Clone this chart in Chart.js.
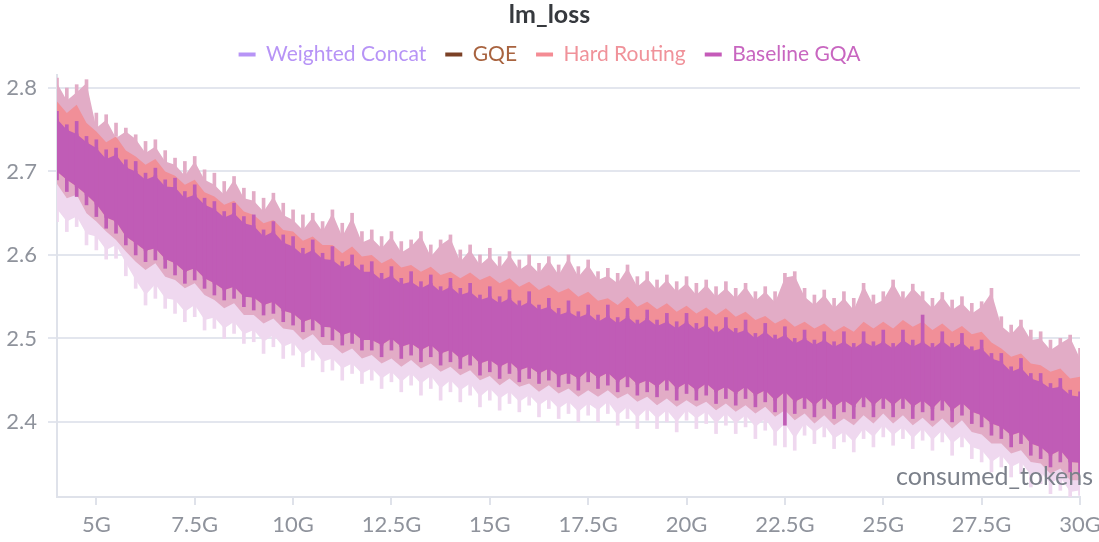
<!DOCTYPE html>
<html>
<head>
<meta charset="utf-8">
<script src="https://cdn.jsdelivr.net/npm/chart.js@4.4.1/dist/chart.umd.min.js"></script>
<style>
  html, body { margin: 0; padding: 0; background: #fff; }
  #wrap { width: 1099px; height: 542px; }
</style>
</head>
<body>
<div id="wrap"><canvas id="lossChart"></canvas></div>
<script>
// consumed tokens (G), sampled every 0.25G
const tokens = [
  4, 4.25, 4.5, 4.75, 5, 5.25, 5.5, 5.75, 6, 6.25, 6.5, 6.75, 7, 7.25, 7.5, 7.75,
  8, 8.25, 8.5, 8.75, 9, 9.25, 9.5, 9.75, 10, 10.25, 10.5, 10.75, 11, 11.25, 11.5, 11.75,
  12, 12.25, 12.5, 12.75, 13, 13.25, 13.5, 13.75, 14, 14.25, 14.5, 14.75, 15, 15.25, 15.5, 15.75,
  16, 16.25, 16.5, 16.75, 17, 17.25, 17.5, 17.75, 18, 18.25, 18.5, 18.75, 19, 19.25, 19.5, 19.75,
  20, 20.25, 20.5, 20.75, 21, 21.25, 21.5, 21.75, 22, 22.25, 22.5, 22.75, 23, 23.25, 23.5, 23.75,
  24, 24.25, 24.5, 24.75, 25, 25.25, 25.5, 25.75, 26, 26.25, 26.5, 26.75, 27, 27.25, 27.5, 27.75,
  28, 28.25, 28.5, 28.75, 29, 29.25, 29.5, 29.75, 30
];

// Hard Routing: spike tops, max of the raw band, top of the line
const hardRoutingSpike = [
  2.812, 2.800, 2.804, 2.810, 2.770, 2.768, 2.758, 2.752, 2.744, 2.736, 2.738, 2.725, 2.716, 2.712, 2.718, 2.702,
  2.698, 2.688, 2.694, 2.680, 2.676, 2.668, 2.674, 2.662, 2.654, 2.648, 2.650, 2.640, 2.654, 2.638, 2.650, 2.628,
  2.630, 2.622, 2.628, 2.616, 2.618, 2.628, 2.612, 2.618, 2.624, 2.606, 2.612, 2.600, 2.608, 2.598, 2.604, 2.594,
  2.600, 2.590, 2.598, 2.588, 2.600, 2.586, 2.594, 2.580, 2.584, 2.578, 2.588, 2.574, 2.580, 2.570, 2.576, 2.568,
  2.574, 2.566, 2.570, 2.562, 2.568, 2.560, 2.566, 2.556, 2.562, 2.556, 2.578, 2.580, 2.560, 2.552, 2.558, 2.548,
  2.556, 2.548, 2.566, 2.552, 2.556, 2.570, 2.556, 2.565, 2.556, 2.548, 2.555, 2.546, 2.550, 2.542, 2.544, 2.560,
  2.526, 2.516, 2.522, 2.510, 2.508, 2.498, 2.500, 2.504, 2.488
];
const hardRoutingMax = [
  2.806, 2.785, 2.795, 2.806, 2.752, 2.762, 2.740, 2.748, 2.739, 2.722, 2.730, 2.712, 2.708, 2.695, 2.712, 2.690,
  2.684, 2.672, 2.690, 2.668, 2.665, 2.652, 2.670, 2.648, 2.642, 2.630, 2.645, 2.628, 2.650, 2.622, 2.645, 2.615,
  2.620, 2.608, 2.622, 2.603, 2.610, 2.623, 2.598, 2.612, 2.620, 2.592, 2.606, 2.588, 2.598, 2.584, 2.600, 2.582,
  2.590, 2.578, 2.594, 2.576, 2.596, 2.574, 2.588, 2.570, 2.575, 2.566, 2.584, 2.562, 2.572, 2.558, 2.570, 2.556,
  2.566, 2.552, 2.564, 2.550, 2.560, 2.548, 2.562, 2.545, 2.556, 2.543, 2.573, 2.575, 2.550, 2.540, 2.552, 2.536,
  2.548, 2.534, 2.563, 2.540, 2.546, 2.566, 2.545, 2.560, 2.548, 2.536, 2.550, 2.534, 2.542, 2.530, 2.538, 2.555,
  2.515, 2.505, 2.518, 2.498, 2.500, 2.486, 2.494, 2.501, 2.476
];
const hardRoutingTop = [
  2.784, 2.770, 2.780, 2.758, 2.748, 2.735, 2.742, 2.725, 2.718, 2.708, 2.715, 2.700, 2.695, 2.684, 2.690, 2.675,
  2.670, 2.660, 2.665, 2.652, 2.648, 2.638, 2.642, 2.630, 2.628, 2.617, 2.622, 2.612, 2.612, 2.602, 2.610, 2.598,
  2.600, 2.590, 2.596, 2.585, 2.588, 2.580, 2.586, 2.576, 2.580, 2.572, 2.579, 2.570, 2.575, 2.566, 2.572, 2.562,
  2.568, 2.558, 2.564, 2.555, 2.560, 2.550, 2.556, 2.545, 2.548, 2.540, 2.550, 2.538, 2.544, 2.535, 2.542, 2.532,
  2.539, 2.530, 2.537, 2.528, 2.536, 2.526, 2.532, 2.522, 2.527, 2.518, 2.524, 2.514, 2.520, 2.512, 2.518, 2.508,
  2.515, 2.508, 2.520, 2.512, 2.520, 2.512, 2.522, 2.514, 2.520, 2.510, 2.518, 2.508, 2.515, 2.505, 2.508, 2.495,
  2.488, 2.478, 2.482, 2.470, 2.468, 2.460, 2.464, 2.452, 2.454
];

// Baseline GQA: spike tips, top and bottom of the line, dips, bottom of the raw band
const baselineSpike = [
  2.772, 2.756, 2.760, 2.742, 2.738, 2.726, 2.728, 2.714, 2.712, 2.698, 2.704, 2.690, 2.692, 2.676, 2.684, 2.668,
  2.664, 2.652, 2.662, 2.646, 2.648, 2.630, 2.640, 2.624, 2.622, 2.608, 2.618, 2.602, 2.610, 2.592, 2.600, 2.588,
  2.592, 2.578, 2.586, 2.572, 2.580, 2.568, 2.576, 2.562, 2.572, 2.560, 2.566, 2.552, 2.562, 2.550, 2.558, 2.545,
  2.556, 2.540, 2.548, 2.536, 2.545, 2.532, 2.540, 2.528, 2.540, 2.525, 2.536, 2.522, 2.534, 2.522, 2.530, 2.520,
  2.530, 2.518, 2.526, 2.514, 2.525, 2.512, 2.522, 2.506, 2.518, 2.504, 2.514, 2.500, 2.510, 2.498, 2.508, 2.496,
  2.508, 2.494, 2.508, 2.496, 2.510, 2.494, 2.510, 2.498, 2.528, 2.494, 2.508, 2.494, 2.506, 2.490, 2.498, 2.482,
  2.482, 2.466, 2.476, 2.458, 2.458, 2.446, 2.452, 2.438, 2.436
];
const baselineTop = [
  2.763, 2.750, 2.745, 2.735, 2.728, 2.715, 2.720, 2.705, 2.700, 2.690, 2.695, 2.682, 2.681, 2.668, 2.672, 2.660,
  2.655, 2.645, 2.650, 2.638, 2.635, 2.622, 2.628, 2.615, 2.610, 2.600, 2.606, 2.595, 2.594, 2.585, 2.590, 2.580,
  2.580, 2.570, 2.575, 2.565, 2.568, 2.560, 2.566, 2.556, 2.562, 2.552, 2.556, 2.546, 2.550, 2.542, 2.548, 2.538,
  2.544, 2.534, 2.538, 2.528, 2.532, 2.525, 2.530, 2.520, 2.527, 2.518, 2.526, 2.516, 2.524, 2.515, 2.520, 2.512,
  2.520, 2.510, 2.516, 2.506, 2.515, 2.506, 2.510, 2.500, 2.508, 2.498, 2.504, 2.494, 2.500, 2.492, 2.498, 2.490,
  2.496, 2.488, 2.496, 2.490, 2.496, 2.488, 2.498, 2.490, 2.496, 2.488, 2.497, 2.488, 2.495, 2.485, 2.488, 2.476,
  2.472, 2.460, 2.465, 2.452, 2.448, 2.440, 2.442, 2.432, 2.430
];
const baselineBottom = [
  2.700, 2.690, 2.682, 2.672, 2.661, 2.645, 2.640, 2.622, 2.614, 2.605, 2.608, 2.595, 2.590, 2.580, 2.584, 2.572,
  2.566, 2.558, 2.562, 2.550, 2.549, 2.540, 2.544, 2.533, 2.530, 2.520, 2.524, 2.514, 2.513, 2.504, 2.508, 2.498,
  2.498, 2.492, 2.500, 2.490, 2.494, 2.486, 2.492, 2.482, 2.486, 2.476, 2.482, 2.470, 2.474, 2.466, 2.472, 2.462,
  2.466, 2.458, 2.464, 2.455, 2.459, 2.452, 2.462, 2.453, 2.459, 2.448, 2.456, 2.445, 2.450, 2.442, 2.452, 2.440,
  2.447, 2.438, 2.446, 2.436, 2.442, 2.434, 2.442, 2.432, 2.438, 2.426, 2.436, 2.424, 2.430, 2.420, 2.430, 2.418,
  2.426, 2.418, 2.432, 2.420, 2.430, 2.420, 2.430, 2.418, 2.426, 2.416, 2.428, 2.414, 2.423, 2.412, 2.408, 2.398,
  2.394, 2.384, 2.388, 2.374, 2.370, 2.360, 2.366, 2.352, 2.351
];
const baselineDip = [
  2.690, 2.676, 2.670, 2.660, 2.646, 2.632, 2.626, 2.612, 2.600, 2.592, 2.594, 2.584, 2.576, 2.566, 2.570, 2.560,
  2.552, 2.546, 2.548, 2.538, 2.534, 2.528, 2.530, 2.520, 2.516, 2.508, 2.510, 2.502, 2.498, 2.492, 2.494, 2.486,
  2.486, 2.478, 2.486, 2.476, 2.480, 2.472, 2.478, 2.468, 2.472, 2.464, 2.468, 2.456, 2.460, 2.452, 2.458, 2.448,
  2.452, 2.446, 2.450, 2.442, 2.446, 2.438, 2.448, 2.440, 2.444, 2.436, 2.442, 2.432, 2.436, 2.430, 2.438, 2.426,
  2.434, 2.426, 2.432, 2.422, 2.428, 2.420, 2.428, 2.418, 2.424, 2.412, 2.396, 2.410, 2.416, 2.406, 2.416, 2.404,
  2.412, 2.404, 2.418, 2.406, 2.416, 2.406, 2.416, 2.404, 2.412, 2.402, 2.414, 2.400, 2.408, 2.398, 2.394, 2.384,
  2.380, 2.370, 2.374, 2.360, 2.356, 2.346, 2.352, 2.340, 2.338
];
const baselineMin = [
  2.685, 2.668, 2.672, 2.650, 2.640, 2.628, 2.618, 2.604, 2.592, 2.582, 2.590, 2.574, 2.570, 2.560, 2.566, 2.552,
  2.546, 2.536, 2.542, 2.528, 2.528, 2.518, 2.524, 2.512, 2.510, 2.498, 2.505, 2.492, 2.492, 2.482, 2.488, 2.476,
  2.480, 2.470, 2.476, 2.466, 2.474, 2.464, 2.470, 2.460, 2.466, 2.456, 2.462, 2.450, 2.455, 2.444, 2.452, 2.442,
  2.446, 2.436, 2.444, 2.434, 2.440, 2.430, 2.438, 2.430, 2.438, 2.428, 2.434, 2.424, 2.430, 2.420, 2.428, 2.418,
  2.426, 2.418, 2.424, 2.414, 2.422, 2.412, 2.420, 2.410, 2.418, 2.406, 2.414, 2.402, 2.410, 2.398, 2.408, 2.396,
  2.404, 2.396, 2.408, 2.398, 2.410, 2.398, 2.408, 2.396, 2.405, 2.394, 2.404, 2.392, 2.402, 2.388, 2.385, 2.374,
  2.374, 2.362, 2.366, 2.352, 2.350, 2.338, 2.344, 2.330, 2.330
];

// Weighted Concat: min of the raw band and the lowest spikes
const weightedConcatMin = [
  2.655, 2.640, 2.646, 2.625, 2.622, 2.606, 2.612, 2.590, 2.570, 2.552, 2.565, 2.548, 2.546, 2.532, 2.540, 2.522,
  2.525, 2.512, 2.520, 2.505, 2.510, 2.496, 2.504, 2.490, 2.495, 2.480, 2.488, 2.472, 2.476, 2.464, 2.470, 2.458,
  2.464, 2.452, 2.460, 2.448, 2.458, 2.446, 2.455, 2.440, 2.450, 2.438, 2.446, 2.430, 2.440, 2.428, 2.436, 2.424,
  2.432, 2.420, 2.428, 2.416, 2.424, 2.412, 2.422, 2.414, 2.424, 2.408, 2.418, 2.405, 2.416, 2.404, 2.414, 2.400,
  2.414, 2.404, 2.412, 2.398, 2.410, 2.398, 2.408, 2.394, 2.404, 2.386, 2.398, 2.380, 2.398, 2.388, 2.396, 2.380,
  2.388, 2.376, 2.392, 2.382, 2.396, 2.384, 2.394, 2.380, 2.392, 2.378, 2.390, 2.374, 2.384, 2.370, 2.366, 2.352,
  2.360, 2.346, 2.352, 2.336, 2.340, 2.326, 2.334, 2.316, 2.318
];
const weightedConcatSpike = [
  2.640, 2.628, 2.634, 2.612, 2.606, 2.595, 2.596, 2.575, 2.560, 2.540, 2.548, 2.536, 2.530, 2.520, 2.526, 2.510,
  2.512, 2.500, 2.506, 2.494, 2.496, 2.482, 2.490, 2.476, 2.480, 2.466, 2.474, 2.460, 2.462, 2.450, 2.458, 2.446,
  2.450, 2.440, 2.448, 2.436, 2.444, 2.432, 2.440, 2.426, 2.436, 2.424, 2.432, 2.418, 2.426, 2.414, 2.422, 2.412,
  2.420, 2.406, 2.416, 2.404, 2.410, 2.400, 2.408, 2.400, 2.410, 2.396, 2.404, 2.392, 2.402, 2.392, 2.400, 2.388,
  2.402, 2.392, 2.398, 2.386, 2.396, 2.386, 2.394, 2.380, 2.390, 2.372, 2.370, 2.366, 2.384, 2.374, 2.382, 2.368,
  2.376, 2.364, 2.380, 2.370, 2.382, 2.372, 2.380, 2.368, 2.378, 2.366, 2.376, 2.360, 2.370, 2.356, 2.352, 2.340,
  2.346, 2.334, 2.338, 2.322, 2.326, 2.314, 2.318, 2.310, 2.312
];

// GQE, every 1G (mostly hidden under the other runs)
const gqeTokens = [4, 5, 6, 7, 8, 9, 10, 11, 12, 13, 14, 15, 16, 17, 18, 19, 20, 21, 22, 23, 24, 25, 26, 27, 28, 29, 30];
const gqeLoss = [
  2.730, 2.690, 2.660, 2.635, 2.610, 2.590, 2.570, 2.553, 2.540, 2.530, 2.523, 2.512, 2.504, 2.495,
  2.490, 2.486, 2.482, 2.477, 2.470, 2.464, 2.460, 2.462, 2.460, 2.458, 2.432, 2.408, 2.390
];

const xTicks = [5, 7.5, 10, 12.5, 15, 17.5, 20, 22.5, 25, 27.5, 30];
const yTicks = [2.4, 2.5, 2.6, 2.7, 2.8];

const seriesNames = ['Weighted Concat', 'GQE', 'Hard Routing', 'Baseline GQA'];
const seriesColors = ['#b794f6', '#7b4126', '#f48c94', '#c55bb9'];
const seriesTextColors = ['#b794f6', '#a8633f', '#f0929a', '#c866c0'];

function pts(xs, ys) {
    return xs.map((x, i) => ({ x: x, y: ys[i] }));
}

function bars(xs, lo, hi) {
    return xs.map((x, i) => ({ x: x, y: [lo[i], hi[i]] }));
}

function band(data, target, color, order) {
    return {
        data: data,
        fill: { target: target },
        backgroundColor: color,
        borderWidth: 0,
        pointRadius: 0,
        tension: 0,
        order: order
    };
}

function edge(data) {
    return { data: data, fill: false, borderWidth: 0, pointRadius: 0, tension: 0, order: 20 };
}

function spikes(data, color, order) {
    return {
        type: 'bar',
        data: data,
        backgroundColor: color,
        barThickness: 3,
        grouped: false,
        order: order
    };
}

const FONT = 'Lato, "Noto Sans", sans-serif';

// title and axis name are drawn by hand
const textPlugin = {
    id: 'texts',
    afterDraw(chart) {
        const { ctx, chartArea } = chart;
        ctx.save();
        ctx.textBaseline = 'middle';
        ctx.textAlign = 'center';
        ctx.font = 'bold 25px ' + FONT;
        ctx.fillStyle = '#36393e';
        ctx.fillText('lm_loss', chart.width / 2, 15);
        ctx.font = '25px ' + FONT;
        ctx.fillStyle = '#7b808a';
        ctx.textAlign = 'right';
        ctx.fillText('consumed_tokens', chartArea.right + 13, chartArea.bottom - 20);
        ctx.restore();
    }
};

function createLossChart() {
    const ctx = document.getElementById('lossChart').getContext('2d');
    new Chart(ctx, {
        type: 'line',
        data: {
            datasets: [
                band(pts(tokens, weightedConcatMin), 1, '#efd8ef', 10),   // 0
                edge(pts(tokens, baselineTop)),                          // 1
                band(pts(tokens, hardRoutingMax), 3, '#e2acc6', 9),       // 2
                edge(pts(tokens, baselineMin)),                          // 3
                band(pts(tokens, hardRoutingTop), 5, '#f18f98', 8),       // 4
                edge(pts(tokens, baselineBottom)),                       // 5
                {
                    data: pts(gqeTokens, gqeLoss),
                    borderColor: seriesColors[1],
                    borderWidth: 1.5,
                    pointRadius: 0,
                    fill: false,
                    order: 7
                },                                                       // 6
                band(pts(tokens, baselineTop), 5, '#c05cb6', 6),          // 7
                spikes(bars(tokens, hardRoutingTop, hardRoutingSpike), '#e2acc6', 11),
                spikes(bars(tokens, baselineMin, weightedConcatSpike), '#efd8ef', 11),
                spikes(bars(tokens, baselineBottom, baselineSpike), '#c05cb6', 5),
                spikes(bars(tokens, baselineDip, baselineTop), '#c05cb6', 5)
            ]
        },
        options: {
            responsive: true,
            maintainAspectRatio: false,
            animation: false,
            layout: { padding: { top: 25, right: 0, left: 0, bottom: 0 } },
            scales: {
                x: {
                    type: 'linear',
                    min: 4,
                    max: 30,
                    offset: false,
                    afterBuildTicks: function (scale) {
                        scale.ticks = xTicks.map(v => ({ value: v }));
                    },
                    afterFit: function (scale) {
                        scale.height = 45;
                        scale.paddingRight = 19;
                    },
                    grid: {
                        offset: false,
                        drawOnChartArea: false,
                        drawTicks: true,
                        tickLength: 8,
                        color: '#dfe2ea',
                        lineWidth: 2
                    },
                    border: { display: true, color: '#dfe2ea', width: 2 },
                    ticks: {
                        font: { family: FONT, size: 22 },
                        color: '#8f939c',
                        padding: 7,
                        maxRotation: 0,
                        callback: function (value) { return value + 'G'; }
                    }
                },
                y: {
                    min: 2.31,
                    max: 2.8156,
                    afterBuildTicks: function (scale) {
                        scale.ticks = yTicks.map(v => ({ value: v }));
                    },
                    afterFit: function (scale) { scale.width = 57; },
                    grid: {
                        color: '#e3e6ee',
                        lineWidth: 2,
                        drawTicks: true,
                        tickLength: 9
                    },
                    border: { display: true, color: '#dfe2ea', width: 2 },
                    ticks: {
                        font: { family: FONT, size: 22 },
                        color: '#8f939c',
                        padding: 11,
                        callback: function (value) { return value.toFixed(1); }
                    }
                }
            },
            plugins: {
                title: { display: false },
                legend: {
                    display: true,
                    labels: {
                        font: { family: FONT, size: 21 },
                        boxWidth: 17,
                        boxHeight: 4,
                        padding: 19,
                        generateLabels: function () {
                            return seriesNames.map((name, i) => ({
                                text: name,
                                fillStyle: seriesColors[i],
                                strokeStyle: seriesColors[i],
                                fontColor: seriesTextColors[i],
                                lineWidth: 0,
                                hidden: false,
                                datasetIndex: i
                            }));
                        }
                    }
                },
                tooltip: { enabled: false }
            }
        },
        plugins: [textPlugin]
    });
}

document.addEventListener('DOMContentLoaded', function () {
    createLossChart();
});
</script>
</body>
</html>
